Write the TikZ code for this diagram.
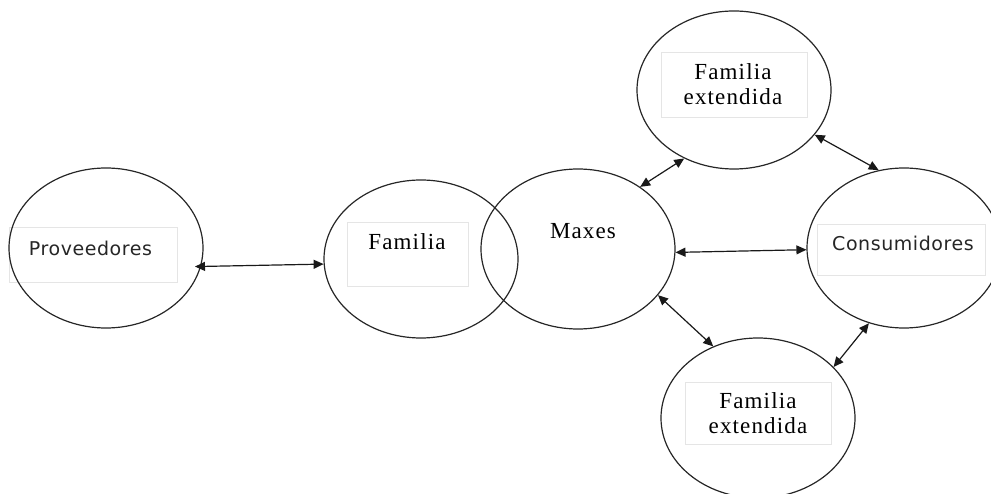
\documentclass[tikz,border=0pt]{standalone}
\usepackage{fontspec}
\setmainfont{Liberation Serif}
\newfontfamily\labsans[LetterSpace=3]{DejaVu Sans}
\newfontfamily\labserif[LetterSpace=5]{Liberation Serif}
\usetikzlibrary{shapes.geometric,arrows.meta}
\begin{document}
\begin{tikzpicture}[x=1pt,y=-1pt,
  bubble/.style={ellipse, draw=black!85, line width=1.2pt, minimum width=194pt, minimum height=160pt, inner sep=0pt},
  lbox/.style={draw=black!10, line width=0.6pt, inner sep=0pt},
  stxt/.style={font=\labsans\fontsize{19}{22}\selectfont, text=black!85, anchor=base, inner sep=0pt},
  rtxt/.style={font=\labserif\fontsize{23}{26}\selectfont, text=black, anchor=base, inner sep=0pt},
  link/.style={{Triangle[length=10pt,width=9pt]}-{Triangle[length=10pt,width=9pt]}, line width=1.2pt, draw=black!90}]
\useasboundingbox (0,0) rectangle (991,494);

% label boxes
\node[lbox, minimum width=168pt, minimum height=55pt] (provbox) at (93,254.5) {};
\node[lbox, minimum width=121pt, minimum height=64pt] (fambox) at (407.5,254) {};
\node[lbox, minimum width=146pt, minimum height=65pt] (fetbox) at (734,84.5) {};
\node[lbox, minimum width=168pt, minimum height=51pt] (consbox) at (901,249.5) {};
\node[lbox, minimum width=146pt, minimum height=62pt] (febbox) at (758,413) {};

% ellipses
\node[bubble] (prov) at (106,248) {};
\node[bubble, minimum height=158pt] (fam) at (421,259) {};
\node[bubble] (maxes) at (578,249) {};
\node[bubble, minimum height=158pt] (fet) at (734,90) {};
\node[bubble] (cons) at (904,248) {};
\node[bubble] (feb) at (758,418) {};

% texts
\node[stxt] (provtxt) at (90.5,256) {Proveedores};
\node[rtxt] (famtxt) at (407,250) {Familia};
\node[rtxt] (maxtxt) at (583,239) {Maxes};
\node[rtxt] (fettxt1) at (733,80) {Familia};
\node[rtxt] (fettxt2) at (733,105) {extendida};
\node[stxt] (constxt) at (903,251) {Consumidores};
\node[rtxt] (febtxt1) at (758,408) {Familia};
\node[rtxt] (febtxt2) at (758,433) {extendida};

% connectors
\draw[link, shorten <=-6pt] (prov.-11) -- (fam.183);
\draw[link] (maxes.45) -- (fet.234.5);
\draw[link] (fet.-29.2) -- (cons.108);
\draw[link] (maxes.-2.4) -- (cons.181.8);
\draw[link] (maxes.-30.6) -- (feb.122.5);
\draw[link] (cons.245.2) -- (feb.34);
\end{tikzpicture}
\end{document}
